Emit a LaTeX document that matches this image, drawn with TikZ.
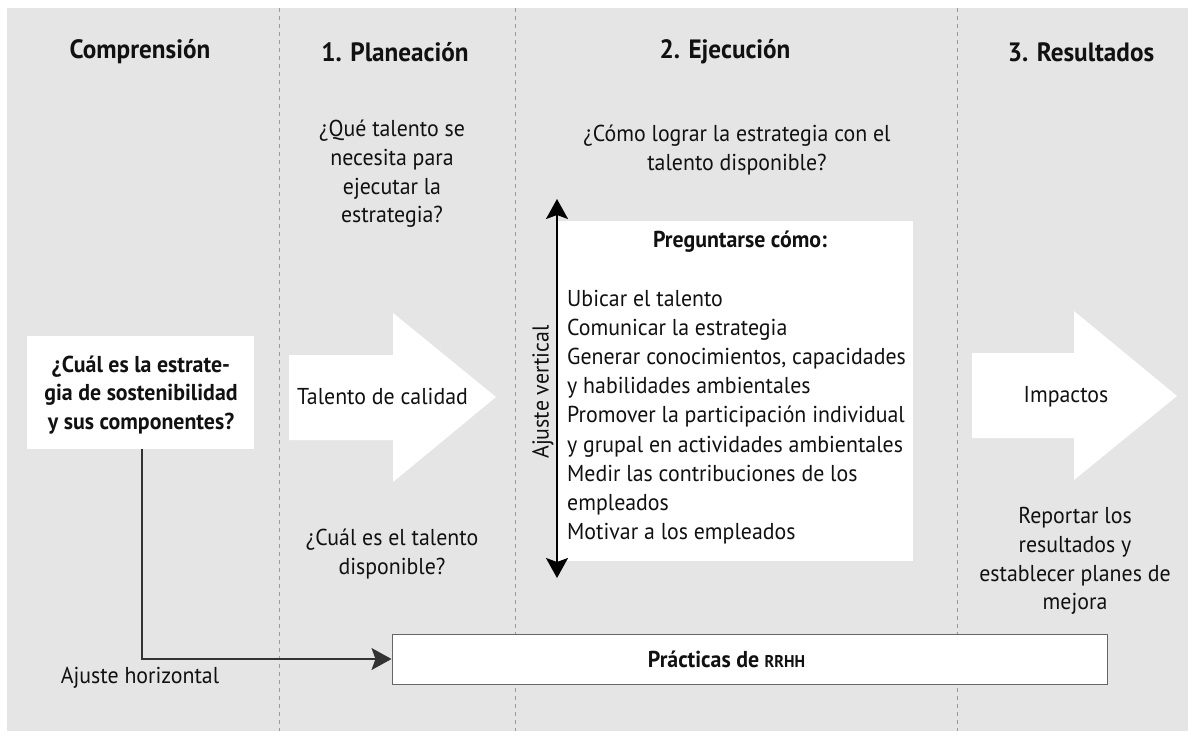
\documentclass[tikz,border=0pt]{standalone}
\usepackage{fontspec}
\setmainfont{PT Sans}[FakeStretch=0.95]
\usetikzlibrary{arrows.meta}
\definecolor{bggray}{HTML}{E5E5E5}
\definecolor{txt}{HTML}{111111}
\definecolor{dashgray}{HTML}{9A9A9A}
\definecolor{linegray}{HTML}{333333}
\definecolor{boxedge}{HTML}{666666}
\tikzset{
  lbl/.style={inner sep=0pt, text=txt, align=center, font=\fontsize{23}{28.7}\selectfont},
  lblb/.style={inner sep=0pt, text=txt, align=center, font=\fontsize{23}{28.2}\selectfont\bfseries},
  header/.style={inner sep=0pt, text=txt, align=center, font=\fontsize{26.5}{30}\selectfont\bfseries},
  whitebox/.style={fill=white, draw=none, inner sep=0pt},
  divider/.style={draw=dashgray, line width=0.8pt, dash pattern=on 4pt off 4pt},
  blockarrow/.style={fill=white, draw=none}
}
\begin{document}
\begin{tikzpicture}[x=1pt,y=-1pt]
\useasboundingbox (0,0) rectangle (1188,734);
\fill[bggray] (7,8) rectangle (1188,731);

% column dividers
\draw[divider] (279,8) -- (279,731);
\draw[divider] (515,8) -- (515,731);
\draw[divider] (957,8) -- (957,731);

% headers
\node[header] (h0) at (140,52) {Comprensión};
\node[header] (h1) at (395,52) {1. Planeación};
\node[header] (h2) at (725,52) {2. Ejecución};
\node[header] (h3) at (1081,52) {3. Resultados};

% questions
\node[lbl] (q1) at (392,174) {¿Qué talento se\\necesita para\\ejecutar la\\estrategia?};
\node[lbl] (q2) at (737,150) {¿Cómo lograr la estrategia con el\\talento disponible?};
\node[lbl] (q3) at (392,554) {¿Cuál es el talento\\disponible?};
\node[lbl] (q4) at (1075,561) {Reportar los\\resultados y\\establecer planes de\\mejora};

% block arrows
\fill[blockarrow] (289,355) -- (393,355) -- (393,313) -- (496,397) -- (393,482) -- (393,440) -- (289,440) -- cycle;
\fill[blockarrow] (972,353) -- (1074,353) -- (1074,311) -- (1177,396) -- (1074,480) -- (1074,438) -- (972,438) -- cycle;
\node[lbl] (tal) at (382.5,396) {Talento de calidad};
\node[lbl] (imp) at (1066,397) {Impactos};

% strategy box
\node[whitebox, minimum width=227pt, minimum height=113pt] (strat) at (140.5,392.5) {};
\node[lblb] (strattxt) at (141,395) {¿Cuál es la estrate-\\gia de sostenibilidad\\y sus componentes?};

% execution box
\node[whitebox, minimum width=356pt, minimum height=340pt] (exec) at (735,391) {};
\node[lblb] (pc) at (740,242) {Preguntarse cómo:};
\node[lbl, align=left, anchor=west, font=\fontsize{23}{29.2}\selectfont] (items) at (567,417) {Ubicar el talento\\Comunicar la estrategia\\Generar conocimientos, capacidades\\y habilidades ambientales\\Promover la participación individual\\y grupal en actividades ambientales\\Medir las contribuciones de los\\empleados\\Motivar a los empleados};

% vertical adjustment arrow
\coordinate (vtop) at (557,199);
\coordinate (vbot) at (557,578);
\draw[line width=2pt, black, {Stealth[length=20pt,width=22pt,inset=4pt]}-{Stealth[length=20pt,width=22pt,inset=4pt]}] (vtop) -- (vbot);
\node[lbl, rotate=90] (av) at (543,392) {Ajuste vertical};

% HR practices box
\node[fill=white, draw=boxedge, line width=1pt, minimum width=715pt, minimum height=50pt, inner sep=0pt] (hr) at (749.5,659) {};
\node[lblb] (hrtxt) at (726.5,659) {Prácticas de {\fontsize{17}{20}\selectfont RRHH}};

% horizontal adjustment connector
\coordinate (cs) at (142,449);
\draw[linegray, line width=1.3pt, -{Stealth[length=20pt,width=22pt,inset=4pt]}] (cs) |- (hr.west);
\node[lbl] (ah) at (140,678) {Ajuste horizontal};
\end{tikzpicture}
\end{document}
